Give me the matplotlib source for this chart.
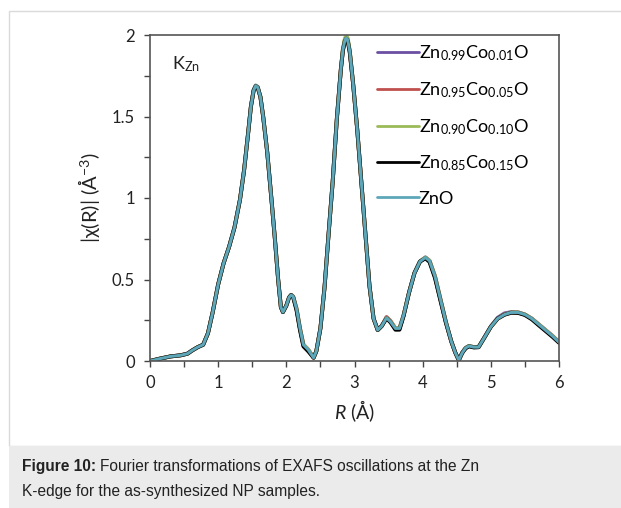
import numpy as np
import matplotlib
matplotlib.use('Agg')
import matplotlib.pyplot as plt
import matplotlib.patches as patches

plt.rcParams['font.family'] = ['Lato', 'DejaVu Sans']
plt.rcParams['mathtext.fontset'] = 'custom'
plt.rcParams['mathtext.rm'] = 'Lato'
plt.rcParams['mathtext.it'] = 'Lato:italic'

# R grid (Angstrom) shared by all FT magnitudes
R = [0.00, 0.15, 0.30, 0.45, 0.55, 0.62, 0.70, 0.78, 0.85, 0.92,
     1.00, 1.08, 1.16, 1.24, 1.32, 1.38, 1.44, 1.48, 1.52, 1.55,
     1.58, 1.62, 1.66, 1.72, 1.78, 1.83, 1.88, 1.92, 1.95, 2.00,
     2.04, 2.07, 2.10, 2.15, 2.20, 2.25, 2.32, 2.36, 2.40, 2.44,
     2.50, 2.56, 2.62, 2.68, 2.74, 2.80, 2.83, 2.86, 2.88, 2.90,
     2.93, 2.98, 3.04, 3.10, 3.16, 3.22, 3.28, 3.34, 3.40, 3.47,
     3.53, 3.60, 3.66, 3.72, 3.80, 3.88, 3.96, 4.04, 4.10, 4.18,
     4.26, 4.34, 4.42, 4.48, 4.53, 4.58, 4.63, 4.68, 4.75, 4.82,
     4.90, 5.00, 5.10, 5.20, 5.30, 5.40, 5.50, 5.60, 5.70, 5.80,
     5.90, 6.00]

chi_co001 = [0.000, 0.015, 0.028, 0.035, 0.045, 0.065, 0.085, 0.100, 0.170, 0.300,
             0.470, 0.600, 0.700, 0.820, 0.990, 1.170, 1.400, 1.560, 1.662, 1.690,
             1.682, 1.620, 1.500, 1.280, 1.000, 0.760, 0.500, 0.330, 0.300, 0.340,
             0.390, 0.405, 0.395, 0.320, 0.200, 0.100, 0.070, 0.045, 0.020, 0.060,
             0.200, 0.450, 0.780, 1.100, 1.480, 1.790, 1.910, 1.972, 1.985, 1.972,
             1.900, 1.700, 1.420, 1.100, 0.780, 0.460, 0.260, 0.190, 0.215, 0.265,
             0.240, 0.200, 0.200, 0.280, 0.420, 0.540, 0.610, 0.635, 0.615, 0.520,
             0.380, 0.240, 0.120, 0.050, 0.005, 0.050, 0.080, 0.092, 0.085, 0.085,
             0.140, 0.212, 0.265, 0.292, 0.300, 0.298, 0.285, 0.260, 0.225, 0.190,
             0.155, 0.115]

chi_co005 = [0.000, 0.015, 0.028, 0.035, 0.045, 0.065, 0.085, 0.100, 0.170, 0.300,
             0.470, 0.600, 0.700, 0.820, 0.990, 1.170, 1.400, 1.560, 1.658, 1.685,
             1.678, 1.620, 1.500, 1.280, 1.000, 0.760, 0.500, 0.330, 0.300, 0.340,
             0.390, 0.405, 0.395, 0.320, 0.200, 0.100, 0.070, 0.045, 0.020, 0.060,
             0.200, 0.450, 0.780, 1.100, 1.480, 1.790, 1.910, 1.970, 1.982, 1.970,
             1.900, 1.700, 1.420, 1.100, 0.780, 0.460, 0.260, 0.190, 0.215, 0.270,
             0.245, 0.200, 0.200, 0.280, 0.420, 0.540, 0.610, 0.635, 0.615, 0.520,
             0.380, 0.240, 0.120, 0.050, 0.005, 0.050, 0.080, 0.092, 0.085, 0.085,
             0.140, 0.210, 0.260, 0.285, 0.298, 0.298, 0.285, 0.260, 0.225, 0.190,
             0.155, 0.115]

chi_co010 = [0.000, 0.015, 0.028, 0.035, 0.045, 0.065, 0.085, 0.100, 0.170, 0.300,
             0.470, 0.600, 0.700, 0.820, 0.990, 1.170, 1.400, 1.560, 1.660, 1.688,
             1.680, 1.620, 1.500, 1.280, 1.000, 0.760, 0.500, 0.330, 0.300, 0.340,
             0.390, 0.405, 0.395, 0.320, 0.200, 0.100, 0.070, 0.045, 0.020, 0.060,
             0.200, 0.450, 0.780, 1.100, 1.480, 1.790, 1.915, 1.980, 1.995, 1.980,
             1.905, 1.700, 1.420, 1.100, 0.780, 0.460, 0.260, 0.190, 0.215, 0.265,
             0.240, 0.200, 0.200, 0.280, 0.420, 0.540, 0.610, 0.635, 0.615, 0.520,
             0.380, 0.240, 0.120, 0.050, 0.005, 0.050, 0.080, 0.092, 0.085, 0.085,
             0.140, 0.210, 0.260, 0.285, 0.298, 0.298, 0.285, 0.260, 0.225, 0.190,
             0.155, 0.115]

chi_co015 = [0.000, 0.015, 0.028, 0.035, 0.045, 0.065, 0.085, 0.100, 0.170, 0.300,
             0.470, 0.600, 0.700, 0.820, 0.990, 1.170, 1.400, 1.560, 1.660, 1.686,
             1.678, 1.620, 1.500, 1.280, 1.000, 0.760, 0.500, 0.330, 0.300, 0.340,
             0.390, 0.405, 0.392, 0.310, 0.190, 0.090, 0.060, 0.040, 0.020, 0.060,
             0.200, 0.450, 0.780, 1.100, 1.480, 1.790, 1.905, 1.965, 1.978, 1.965,
             1.895, 1.700, 1.420, 1.100, 0.780, 0.460, 0.260, 0.190, 0.215, 0.262,
             0.236, 0.192, 0.192, 0.276, 0.420, 0.540, 0.610, 0.630, 0.608, 0.510,
             0.372, 0.236, 0.120, 0.050, 0.005, 0.050, 0.078, 0.090, 0.083, 0.085,
             0.140, 0.210, 0.260, 0.284, 0.296, 0.295, 0.282, 0.256, 0.220, 0.185,
             0.150, 0.112]

chi_zno = [0.000, 0.015, 0.028, 0.035, 0.045, 0.065, 0.085, 0.100, 0.170, 0.300,
           0.470, 0.600, 0.700, 0.820, 0.990, 1.170, 1.400, 1.560, 1.660, 1.688,
           1.680, 1.620, 1.500, 1.280, 1.000, 0.760, 0.500, 0.330, 0.300, 0.340,
           0.390, 0.405, 0.395, 0.320, 0.200, 0.100, 0.070, 0.045, 0.020, 0.060,
           0.200, 0.450, 0.780, 1.100, 1.480, 1.790, 1.910, 1.970, 1.982, 1.970,
           1.900, 1.700, 1.420, 1.100, 0.780, 0.460, 0.260, 0.190, 0.215, 0.265,
           0.240, 0.200, 0.200, 0.280, 0.420, 0.540, 0.610, 0.635, 0.615, 0.520,
           0.380, 0.240, 0.120, 0.050, 0.005, 0.050, 0.080, 0.092, 0.085, 0.085,
           0.140, 0.210, 0.260, 0.285, 0.298, 0.298, 0.285, 0.260, 0.225, 0.190,
           0.155, 0.115]

labels = [r'Zn$_{0.99}$Co$_{0.01}$O', r'Zn$_{0.95}$Co$_{0.05}$O',
          r'Zn$_{0.90}$Co$_{0.10}$O', r'Zn$_{0.85}$Co$_{0.15}$O', 'ZnO']
series = [chi_co001, chi_co005, chi_co010, chi_co015, chi_zno]
colors = ['#6a4fa3', '#c0504d', '#9bbb59', '#000000', '#5ea7b9']
widths = [2.8, 2.8, 2.8, 2.8, 2.2]

fig = plt.figure(figsize=(6.21, 5.08), dpi=100)

# panel frame and caption strip
fig.patches.append(patches.Rectangle((9/621, 62/508), 1.0, (508-11-62)/508,
                                     transform=fig.transFigure, fill=False,
                                     edgecolor='#dadada', lw=1.0, zorder=0))
fig.patches.append(patches.Rectangle((9/621, 0), 1.0, 62/508,
                                     transform=fig.transFigure, facecolor='#ebebeb',
                                     edgecolor='none', zorder=0))

ax = fig.add_axes([150/621, 1-361/508, 409/621, 326/508])
for y, lab, c, w in zip(series, labels, colors, widths):
    ax.plot(R, y, '-', color=c, lw=w, label=lab,
            solid_capstyle='round', solid_joinstyle='round')

ax.set_xlim(0, 6)
ax.set_ylim(0, 2)
ax.set_xticks(np.arange(0, 7, 1))
ax.set_xticks(np.arange(0, 6.01, 0.5), minor=True)
ax.set_yticks([0, 0.5, 1, 1.5, 2])
ax.set_yticklabels(['0', '0.5', '1', '1.5', '2'])
ax.set_yticks(np.arange(0, 2.01, 0.25), minor=True)
ax.tick_params(which='both', direction='out', length=4, width=1.0, color='#444444',
               labelsize=12, labelcolor='#222222')
ax.tick_params(axis='x', pad=6)
ax.tick_params(axis='y', pad=7)
for s in ax.spines.values():
    s.set_color('#555555')
    s.set_linewidth(1.2)

ax.set_xlabel(r'$\mathit{R}$ (Å)', fontsize=14, color='#222222', labelpad=5)
ax.set_ylabel(r'|χ(R)| (Å$^{-3}$)', fontsize=14.5, color='#222222', labelpad=7)
ax.text(0.054, 0.895, r'K$_{\mathrm{Zn}}$', transform=ax.transAxes, fontsize=13,
        color='#222222')

leg = ax.legend(loc='upper left', bbox_to_anchor=(0.555, 0.975), frameon=False,
                fontsize=13, handlelength=2.3, handletextpad=0.0,
                labelspacing=0.95, borderaxespad=0, borderpad=0)
for h in leg.get_lines():
    h.set_linewidth(2.0)

# caption
cap_kw = dict(fontsize=11.2, family='Liberation Sans', color='#222222')
t1 = fig.text(22/621, 1-471/508, 'Figure 10:', fontweight='bold', **cap_kw)
fig.canvas.draw()
bb = t1.get_window_extent(fig.canvas.get_renderer())
fig.text(bb.x1/621 + 4/621, 1-471/508,
         'Fourier transformations of EXAFS oscillations at the Zn', **cap_kw)
fig.text(22/621, 1-496/508, 'K-edge for the as-synthesized NP samples.', **cap_kw)

plt.savefig('out.png', dpi=100)
